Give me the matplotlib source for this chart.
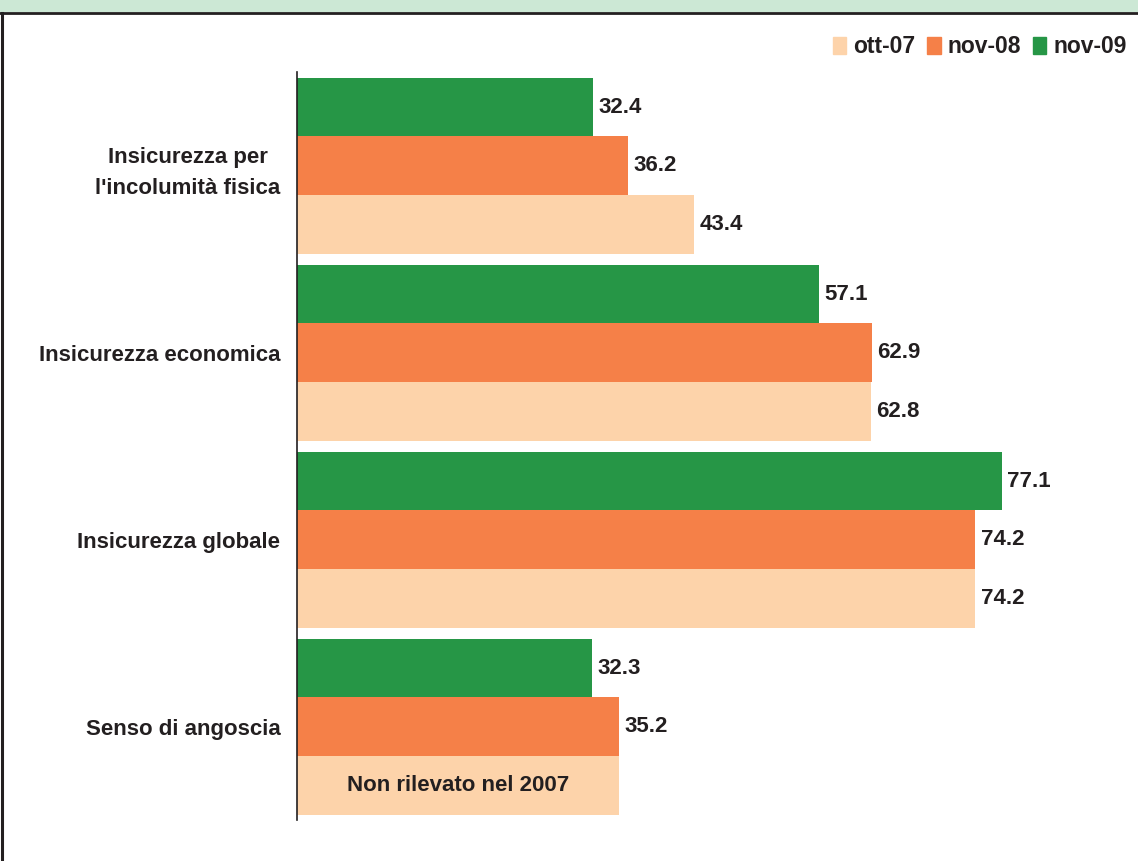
import matplotlib.pyplot as plt
from matplotlib.patches import Rectangle
from matplotlib.lines import Line2D

categories = ["Insicurezza per\nl'incolumità fisica", "Insicurezza economica",
              "Insicurezza globale", "Senso di angoscia"]
series = ["ott-07", "nov-08", "nov-09"]
ott_07 = [43.4, 62.8, 74.2, None]
nov_08 = [36.2, 62.9, 74.2, 35.2]
nov_09 = [32.4, 57.1, 77.1, 32.3]
missing_note = "Non rilevato nel 2007"

colors = {"ott-07": "#fdd3aa", "nov-08": "#f58048", "nov-09": "#269646"}
text_color = "#231f20"

plt.rcParams["font.family"] = ["Liberation Sans", "DejaVu Sans"]
plt.rcParams["font.weight"] = "bold"

fig = plt.figure(figsize=(11.38, 8.61), dpi=100)

# header strip and frame
fig.patches.append(Rectangle((0, 1 - 12 / 861), 1, 12 / 861, transform=fig.transFigure,
                             facecolor="#cce8d5", edgecolor="none", zorder=0))
fig.lines.append(Line2D([0, 1], [1 - 13 / 861, 1 - 13 / 861], transform=fig.transFigure,
                        color=text_color, linewidth=2))
fig.lines.append(Line2D([2 / 1138, 2 / 1138], [0, 1 - 13 / 861], transform=fig.transFigure,
                        color=text_color, linewidth=2.2))

ax = fig.add_axes([297 / 1138, 1 - 820 / 861, (1138 - 297) / 1138, 748 / 861])

pitch = 3.19
h = 1.0
for i, cat in enumerate(categories):
    c = i * pitch
    rows = [("nov-09", nov_09[i], c - 1), ("nov-08", nov_08[i], c), ("ott-07", ott_07[i], c + 1)]
    for name, val, y in rows:
        if val is None:
            # placeholder bar same length as nov-08
            ax.barh(y, nov_08[i], height=h, color=colors[name])
            ax.text(nov_08[i] / 2, y, missing_note, ha="center", va="center",
                    fontsize=16, color=text_color, fontweight="bold")
        else:
            ax.barh(y, val, height=h, color=colors[name])
            ax.text(val + 0.6, y, f"{val:.1f}", ha="left", va="center",
                    fontsize=16, color=text_color, fontweight="bold")

ax.set_xlim(0, 92)
ax.set_ylim(11.16, -1.6)
ax.set_yticks([i * pitch for i in range(len(categories))])
ax.set_yticklabels(categories, fontsize=16, color=text_color, fontweight="bold",
                   multialignment="center", linespacing=1.6)
ax.tick_params(axis="y", length=0, pad=12)
ax.set_xticks([])
for s in ["top", "right", "bottom"]:
    ax.spines[s].set_visible(False)
ax.spines["left"].set_color(text_color)
ax.spines["left"].set_linewidth(1.2)

handles = [Rectangle((0, 0), 1, 1, color=colors[s]) for s in series]
leg = fig.legend(handles, series, loc="upper right", bbox_to_anchor=(1.0, 1 - 24 / 861),
                 ncol=3, frameon=False, handlelength=0.6, handleheight=0.75,
                 handletextpad=0.3, columnspacing=0.5, borderaxespad=0.1,
                 prop={"size": 16.5, "weight": "bold"})
for t in leg.get_texts():
    t.set_color(text_color)

fig.savefig("out.png", dpi=100)
